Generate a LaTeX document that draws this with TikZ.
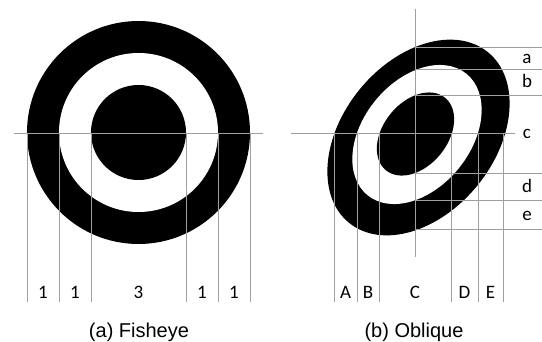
\documentclass[tikz,border=0pt]{standalone}
\usepackage{fontspec}
\setmainfont{Liberation Sans}
\newfontfamily\lblfont{Carlito}
\begin{document}
\begin{tikzpicture}[x=1pt,y=-1pt,
  guide/.style={draw=gray!75, line width=0.9pt},
  lbl/.style={font=\lblfont\fontsize{19}{21}\selectfont, anchor=base, inner sep=0pt},
  capt/.style={font=\fontsize{20}{22}\selectfont, anchor=base, inner sep=0pt}]
\useasboundingbox (0,0) rectangle (542,342);

% ---------- (a) Fisheye ----------
\coordinate (fc) at (138.5,132.5);
\fill[black] (fc) circle[radius=111.5pt];
\fill[white] (fc) circle[radius=79.5pt];
\fill[black] (fc) circle[radius=47.5pt];

\coordinate (fhL) at (14,133);
\coordinate (fhR) at (263,133);
\draw[guide] (fhL) -- (fhR);
\foreach \x/\n in {27/f1,59/f2,91/f3,186/f4,218/f5,250/f6}{
  \coordinate (\n t) at (\x,133);
  \coordinate (\n b) at (\x,302);
  \draw[guide] (\n t) -- (\n b);
}
\node[lbl] (fl1) at (43,299) {1};
\node[lbl] (fl2) at (75,299) {1};
\node[lbl] (fl3) at (138.5,299) {3};
\node[lbl] (fl4) at (202,299) {1};
\node[lbl] (fl5) at (234,299) {1};
\node[capt] (capa) at (139,338) {(a) Fisheye};

% ---------- (b) Oblique ----------
\coordinate (oc1) at (418.5,137.5);
\coordinate (oc2) at (417,134.5);
\coordinate (oc3) at (415.5,134);
\fill[black, rotate around={50.8:(oc1)}] (oc1) ellipse[x radius=110pt, y radius=76pt];
\fill[white, rotate around={50.8:(oc2)}] (oc2) ellipse[x radius=78.3pt, y radius=53.7pt];
\fill[black, rotate around={50.8:(oc3)}] (oc3) ellipse[x radius=46.8pt, y radius=32.1pt];

% axes
\coordinate (ovT) at (415,9);
\coordinate (ovB) at (415,257);
\draw[guide] (ovT) -- (ovB);
\coordinate (ohL) at (291,133);
\coordinate (ohR) at (515,133);
\draw[guide] (ohL) -- (ohR);

% horizontal guides a-e
\foreach \y/\n in {47.5/h1,69.5/h2,95/h3,173/h4,200/h5,229/h6}{
  \coordinate (\n l) at (415,\y);
  \coordinate (\n r) at (542,\y);
  \draw[guide] (\n l) -- (\n r);
}
% vertical guides A-E
\foreach \x/\n in {334/v1,357/v2,379/v3,451/v4,478/v5,503/v6}{
  \coordinate (\n t) at (\x,133);
  \coordinate (\n b) at (\x,302);
  \draw[guide] (\n t) -- (\n b);
}
\node[lbl] (la) at (527,64) {a};
\node[lbl] (lb) at (527,88) {b};
\node[lbl] (lc) at (527,139) {c};
\node[lbl] (ld) at (527,192.5) {d};
\node[lbl] (le) at (527,220.5) {e};

\node[lbl] (lA) at (345.5,299) {A};
\node[lbl] (lB) at (368,299) {B};
\node[lbl] (lC) at (415,299) {C};
\node[lbl] (lD) at (464.5,299) {D};
\node[lbl] (lE) at (490.5,299) {E};
\node[capt] (capb) at (414,338) {(b) Oblique};
\end{tikzpicture}
\end{document}
